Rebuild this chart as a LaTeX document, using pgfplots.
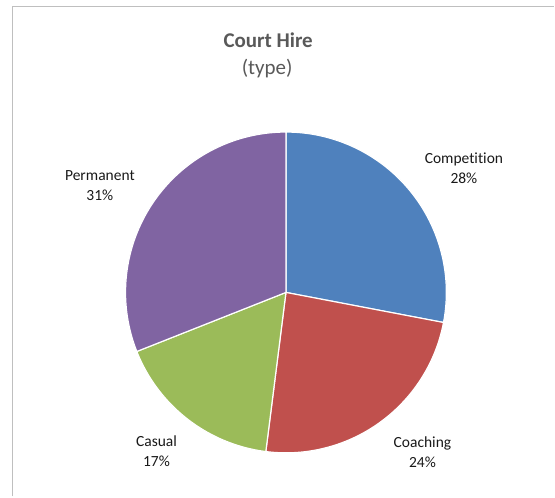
\documentclass[border=0pt]{standalone}
\usepackage{pgfplots}
\pgfplotsset{compat=1.18}
\usepackage{pgfplotstable}
\usepackage{fontspec}
\setmainfont{Carlito}[Ligatures=NoCommon]
\definecolor{cBlue}{HTML}{4F81BD}
\definecolor{cRed}{HTML}{C0504D}
\definecolor{cGreen}{HTML}{9BBB59}
\definecolor{cPurple}{HTML}{8064A2}
\definecolor{titlegray}{HTML}{595959}
\definecolor{bordergray}{HTML}{BFBFBF}
% share (%) of each type, in Excel's clockwise order from 12 o'clock
\pgfplotstableread{
type        value
Competition 28
Coaching    24
Casual      17
Permanent   31
}\hiretable
\pgfplotstablegetelem{0}{value}\of\hiretable \let\vA\pgfplotsretval
\pgfplotstablegetelem{1}{value}\of\hiretable \let\vB\pgfplotsretval
\pgfplotstablegetelem{2}{value}\of\hiretable \let\vC\pgfplotsretval
\pgfplotstablegetelem{3}{value}\of\hiretable \let\vD\pgfplotsretval
\pgfmathsetmacro{\aA}{90}
\pgfmathsetmacro{\aB}{\aA-3.6*\vA}
\pgfmathsetmacro{\aC}{\aB-3.6*\vB}
\pgfmathsetmacro{\aD}{\aC-3.6*\vC}
\pgfmathsetmacro{\aE}{\aD-3.6*\vD}
\def\cx{286.3}
\def\cy{204.2}
\def\rr{160.6}
\begin{document}
\begin{tikzpicture}
\begin{axis}[
  width=555pt, height=497pt, scale only axis,
  xmin=0, xmax=555, ymin=0, ymax=497,
  hide axis, clip=false,
]
\path (axis cs:0,0) rectangle (axis cs:555,497);
\addplot[fill=cBlue, draw=white, line width=1.2pt, domain=\aB:\aA, samples=80, variable=\t]
  ({\cx+\rr*cos(\t)},{\cy+\rr*sin(\t)}) -- (axis cs:\cx,\cy) -- cycle;
\addplot[fill=cRed, draw=white, line width=1.2pt, domain=\aC:\aB, samples=80, variable=\t]
  ({\cx+\rr*cos(\t)},{\cy+\rr*sin(\t)}) -- (axis cs:\cx,\cy) -- cycle;
\addplot[fill=cGreen, draw=white, line width=1.2pt, domain=\aD:\aC, samples=80, variable=\t]
  ({\cx+\rr*cos(\t)},{\cy+\rr*sin(\t)}) -- (axis cs:\cx,\cy) -- cycle;
\addplot[fill=cPurple, draw=white, line width=1.2pt, domain=\aE:\aD, samples=80, variable=\t]
  ({\cx+\rr*cos(\t)},{\cy+\rr*sin(\t)}) -- (axis cs:\cx,\cy) -- cycle;
% chart border (cropped: left and top only)
\draw[bordergray, line width=1.4pt] (axis cs:12.5,0) -- (axis cs:12.5,490.5) -- (axis cs:555,490.5);
% title
\node[font=\fontsize{21}{24}\selectfont\bfseries, text=titlegray] at (axis cs:268.5,457) {Court Hire};
\node[font=\fontsize{21}{24}\selectfont, text=titlegray] at (axis cs:267.5,428.5) {(type)};
% data labels
\node[font=\fontsize{15.5}{20}\selectfont, align=center, text=black!90] at (axis cs:464.5,329) {Competition\\28\%};
\node[font=\fontsize{15.5}{20}\selectfont, align=center, text=black!90] at (axis cs:423,44.3) {Coaching\\24\%};
\node[font=\fontsize{15.5}{20}\selectfont, align=center, text=black!90] at (axis cs:156.7,45.3) {Casual\\17\%};
\node[font=\fontsize{15.5}{20}\selectfont, align=center, text=black!90] at (axis cs:100,311) {Permanent\\31\%};
\end{axis}
\end{tikzpicture}
\end{document}
